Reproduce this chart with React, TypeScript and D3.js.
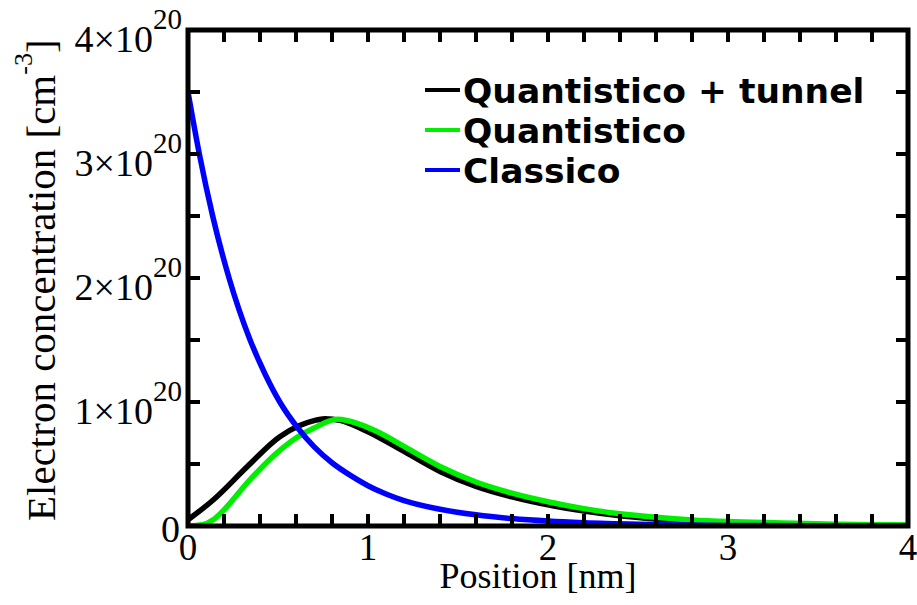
import React from "react";
import * as d3 from "d3";

// ---- data (concentration in units of 1e20 cm^-3, position in nm) ----
const blueX = [0, 0.063, 0.137, 0.228, 0.345, 0.43, 0.51, 0.61, 0.7, 0.8, 0.9, 1.0, 1.1, 1.2, 1.4, 1.6, 1.8, 2.0, 2.2, 2.5, 3.0, 3.5, 4.0];
const blueY = [3.5, 3.0, 2.5, 2.0, 1.5, 1.22, 1.0, 0.79, 0.64, 0.51, 0.41, 0.325, 0.258, 0.205, 0.135, 0.09, 0.06, 0.04, 0.027, 0.015, 0.005, 0.002, 0.001];

const blackX = [0, 0.14, 0.33, 0.51, 0.62, 0.7, 0.76, 0.85, 0.955, 1.067, 1.19, 1.4, 1.6, 1.8, 2.0, 2.2, 2.4, 2.6, 2.8, 3.0, 3.3, 3.6, 4.0];
const blackY = [0.05, 0.21, 0.48, 0.72, 0.81, 0.85, 0.865, 0.85, 0.79, 0.71, 0.61, 0.44, 0.32, 0.235, 0.17, 0.12, 0.082, 0.056, 0.038, 0.026, 0.015, 0.008, 0.004];

const greenX = [0, 0.08, 0.14, 0.2, 0.33, 0.51, 0.6, 0.7, 0.83, 0.955, 1.067, 1.19, 1.4, 1.6, 1.8, 2.0, 2.2, 2.4, 2.6, 2.8, 3.0, 3.3, 3.6, 4.0];
const greenY = [0, 0.01, 0.05, 0.13, 0.35, 0.61, 0.71, 0.79, 0.86, 0.82, 0.75, 0.65, 0.48, 0.355, 0.265, 0.196, 0.14, 0.098, 0.07, 0.049, 0.036, 0.025, 0.015, 0.008];

const xMajor = [0, 1, 2, 3, 4];
const yMajor = [1, 2, 3, 4];
const seriesNames = ["Quantistico + tunnel", "Quantistico", "Classico"];
const seriesColors = ["#000000", "#00ee00", "#0000ff"];

const W = 917;
const H = 605;
const L = 188, R = 908, T = 30, B = 526;

export default function App() {
  const x = d3.scaleLinear().domain([0, 4]).range([L, R]);
  const y = d3.scaleLinear().domain([0, 4]).range([B, T]);
  const line = d3
    .line<[number, number]>()
    .x((d) => x(d[0]))
    .y((d) => y(d[1]))
    .curve(d3.curveMonotoneX);

  const series = [
    { xs: blackX, ys: blackY, color: seriesColors[0] },
    { xs: greenX, ys: greenY, color: seriesColors[1] },
    { xs: blueX, ys: blueY, color: seriesColors[2] },
  ];

  const xMinor = d3.range(0, 4.0001, 0.2);
  const yMinor = d3.range(0, 4.0001, 0.5);
  const tick = 12;
  const serif = "'Liberation Serif', 'Times New Roman', serif";

  return (
    <svg
      width={W}
      height={H}
      style={{ position: "absolute", left: 0, top: 0, background: "#fff" }}
    >
      <defs>
        <clipPath id="plot">
          <rect x={L} y={T} width={R - L} height={B - T} />
        </clipPath>
      </defs>
      <rect x={0} y={0} width={W} height={H} fill="#fff" />

      <g clipPath="url(#plot)">
        {series.map((s, i) => (
          <path
            key={i}
            d={line(s.xs.map((v, j) => [v, s.ys[j]] as [number, number])) || ""}
            fill="none"
            stroke={s.color}
            strokeWidth={5.5}
            strokeLinejoin="round"
          />
        ))}
      </g>

      {/* ticks, mirrored, inward */}
      <g stroke="#000" strokeWidth={4}>
        {xMinor.map((v, i) => (
          <g key={"xt" + i}>
            <line x1={x(v)} x2={x(v)} y1={B} y2={B - tick} />
            <line x1={x(v)} x2={x(v)} y1={T} y2={T + tick} />
          </g>
        ))}
        {yMinor.map((v, i) => (
          <g key={"yt" + i}>
            <line x1={L} x2={L + tick} y1={y(v)} y2={y(v)} />
            <line x1={R} x2={R - tick} y1={y(v)} y2={y(v)} />
          </g>
        ))}
      </g>
      <rect x={L} y={T} width={R - L} height={B - T} fill="none" stroke="#000" strokeWidth={5} />

      {/* x tick labels */}
      <g fontFamily={serif} fontSize={37} fill="#000" textAnchor="middle">
        {xMajor.map((v) => (
          <text key={"xl" + v} x={x(v)} y={560}>
            {v}
          </text>
        ))}
      </g>
      {/* y tick labels */}
      <g fontFamily={serif} fill="#000" textAnchor="end">
        <text x={180} y={542} fontSize={38}>0</text>
        {yMajor.map((v) => (
          <text key={"yl" + v} x={182} y={y(v) + 22} fontSize={38}>
            {v + "×10"}
            <tspan fontSize={29} dy={-23}>20</tspan>
          </text>
        ))}
      </g>

      {/* axis titles */}
      <text x={538} y={588} fontFamily={serif} fontSize={36} textAnchor="middle" fill="#000">
        Position [nm]
      </text>
      <text
        transform="translate(55,521) rotate(-90)"
        fontFamily={serif}
        fontSize={41}
        fill="#000"
      >
        Electron concentration [cm
        <tspan fontSize={26} dy={-23}>-3</tspan>
        <tspan dy={23}>]</tspan>
      </text>

      {/* legend */}
      <g fontFamily="'DejaVu Sans', sans-serif" fontWeight="bold" fontSize={34.5} fill="#000">
        {seriesNames.map((n, i) => (
          <g key={n}>
            <line x1={425} x2={460} y1={90 + i * 40} y2={90 + i * 40} stroke={seriesColors[i]} strokeWidth={4} />
            <text x={463} y={103 + i * 40}>
              {n}
            </text>
          </g>
        ))}
      </g>
    </svg>
  );
}
